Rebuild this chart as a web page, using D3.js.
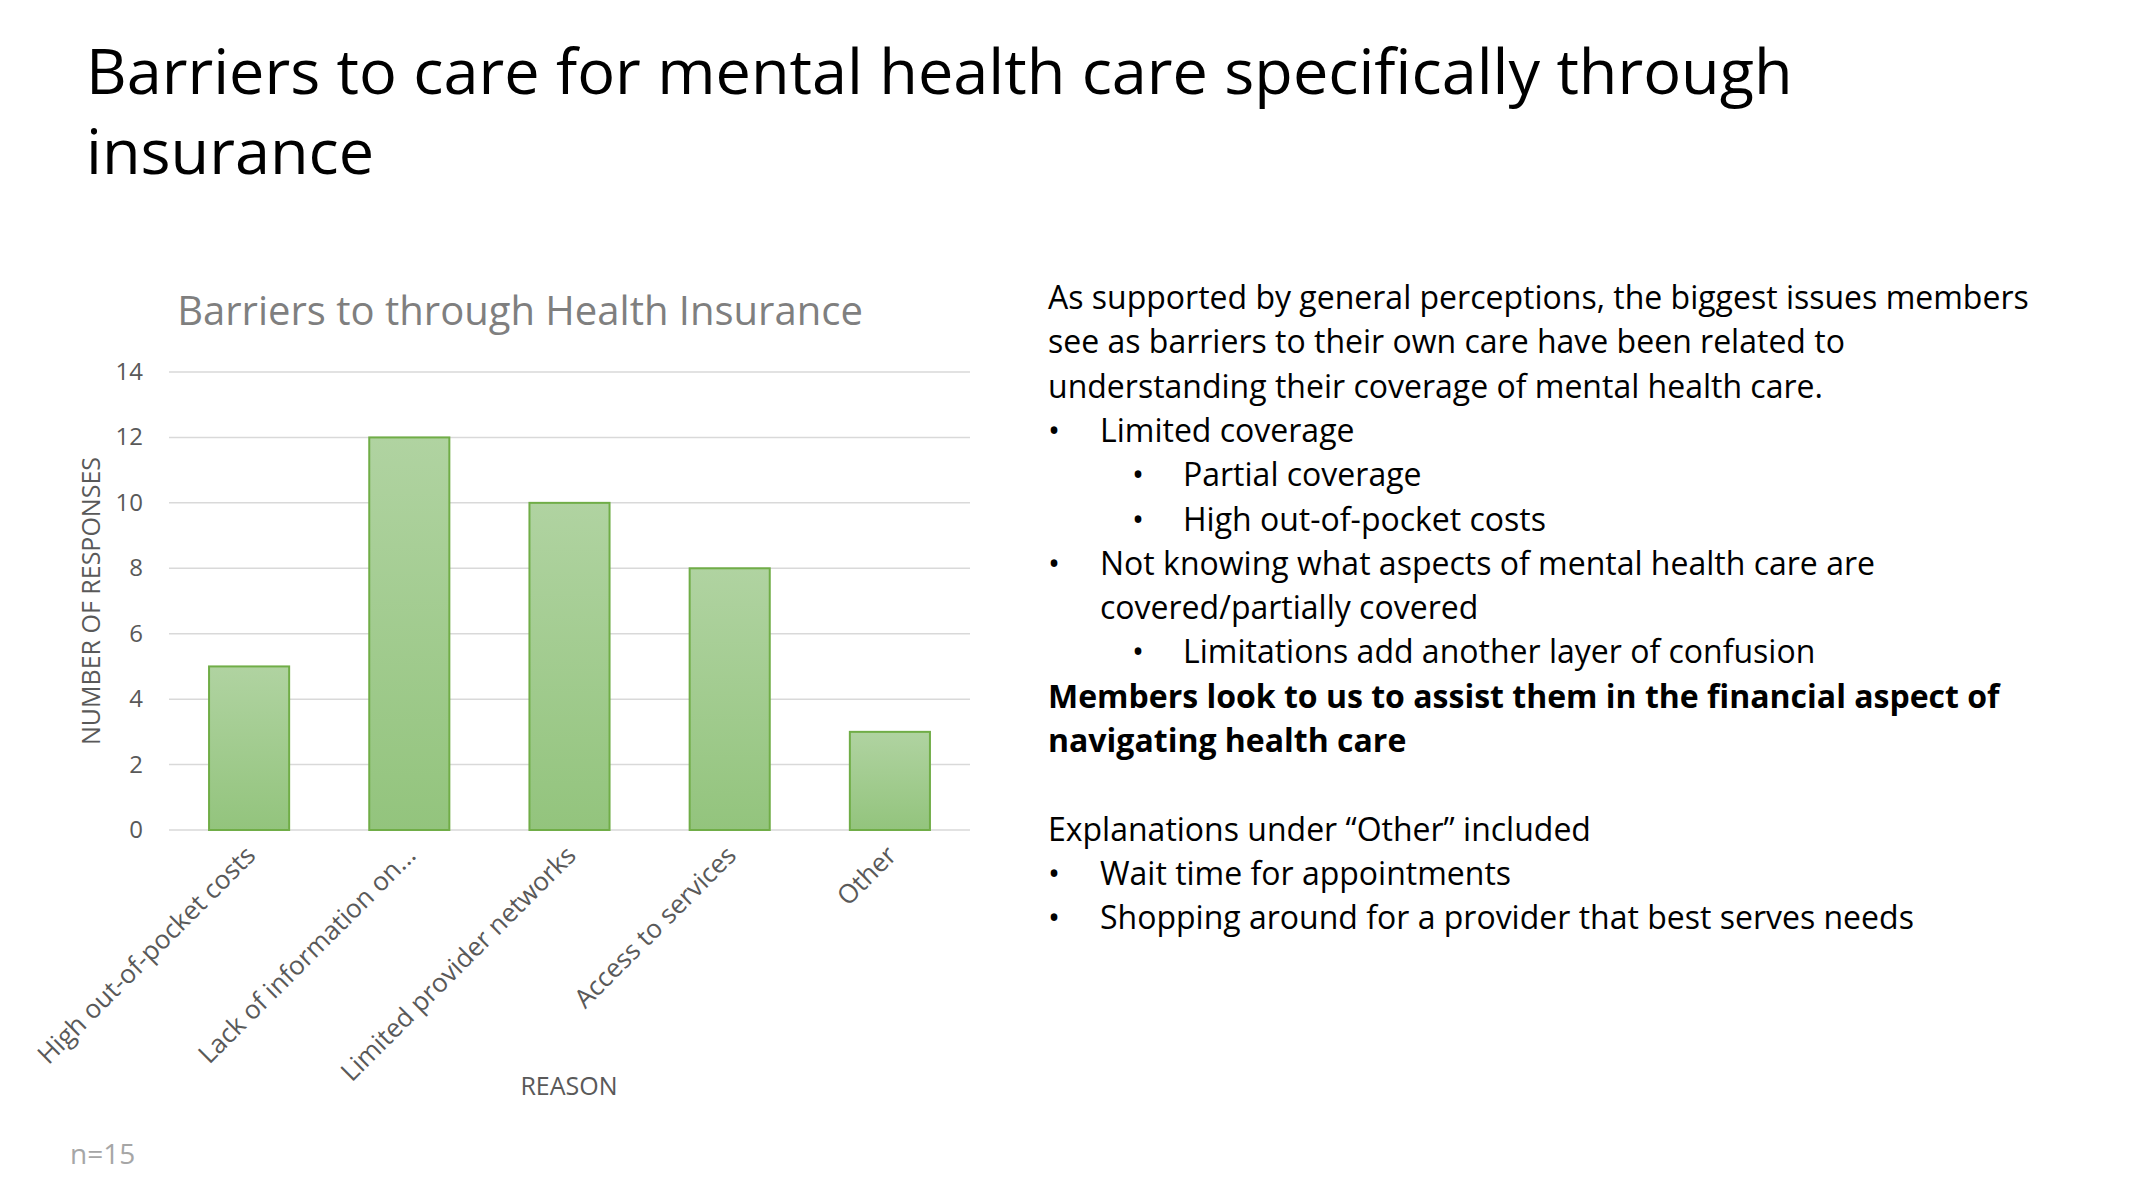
<!DOCTYPE html>
<html><head><meta charset="utf-8">
<script src="https://cdn.jsdelivr.net/npm/d3@7"></script>
<style>body{margin:0;background:#fff;} text{font-family:"Open Sans",sans-serif;}</style>
</head><body>
<script>
var categories = ["High out-of-pocket costs", "Lack of information on...", "Limited provider networks", "Access to services", "Other"];
var responses = [5, 12, 10, 8, 3];
var yTicks = [0, 2, 4, 6, 8, 10, 12, 14];
var notes = [
  {t: "As supported by general perceptions, the biggest issues members", lvl: 0},
  {t: "see as barriers to their own care have been related to", lvl: 0},
  {t: "understanding their coverage of mental health care.", lvl: 0},
  {t: "Limited coverage", lvl: 1},
  {t: "Partial coverage", lvl: 2},
  {t: "High out-of-pocket costs", lvl: 2},
  {t: "Not knowing what aspects of mental health care are", lvl: 1},
  {t: "covered/partially covered", lvl: 1, cont: true},
  {t: "Limitations add another layer of confusion", lvl: 2},
  {t: "Members look to us to assist them in the financial aspect of", lvl: 0, bold: true},
  {t: "navigating health care", lvl: 0, bold: true},
  {t: "", lvl: 0},
  {t: "Explanations under \u201cOther\u201d included", lvl: 0},
  {t: "Wait time for appointments", lvl: 1},
  {t: "Shopping around for a provider that best serves needs", lvl: 1}
];

var svg = d3.select("body").append("svg").attr("width", 2140).attr("height", 1188);

svg.append("text").attr("x", 86).attr("y", 94).attr("font-size", 63).attr("fill", "#000")
  .text("Barriers to care for mental health care specifically through");
svg.append("text").attr("x", 86).attr("y", 174).attr("font-size", 63).attr("fill", "#000")
  .text("insurance");

var defs = svg.append("defs");
var grad = defs.append("linearGradient").attr("id", "g").attr("x1", 0).attr("y1", 0).attr("x2", 0).attr("y2", 1);
grad.append("stop").attr("offset", "0%").attr("stop-color", "#b0d3a1");
grad.append("stop").attr("offset", "100%").attr("stop-color", "#93c47d");

var x = d3.scaleBand().domain(categories).range([169, 970]).paddingInner(0.5).paddingOuter(0.25);
var y = d3.scaleLinear().domain([0, 14]).range([830, 372]);

svg.append("text").attr("x", 520).attr("y", 325).attr("text-anchor", "middle")
  .attr("font-size", 40).attr("fill", "#7f7f7f").text("Barriers to through Health Insurance");

svg.selectAll(".grid").data(yTicks).enter().append("line")
  .attr("x1", 169).attr("x2", 970).attr("y1", d => y(d)).attr("y2", d => y(d))
  .attr("stroke", "#d9d9d9").attr("stroke-width", 1.5);

svg.selectAll(".yt").data(yTicks).enter().append("text")
  .attr("x", 143).attr("y", d => y(d) + 8).attr("text-anchor", "end")
  .attr("font-size", 24).attr("fill", "#595959").text(d => d);

svg.selectAll(".bar").data(responses).enter().append("rect")
  .attr("x", (d, i) => x(categories[i])).attr("width", x.bandwidth())
  .attr("y", d => y(d)).attr("height", d => y(0) - y(d))
  .attr("fill", "url(#g)").attr("stroke", "#70ad47").attr("stroke-width", 2);

svg.selectAll(".xl").data(categories).enter().append("text")
  .attr("transform", d => "translate(" + (x(d) + x.bandwidth() / 2 + 8) + ",857) rotate(-45)")
  .attr("text-anchor", "end").attr("font-size", 26).attr("fill", "#595959").text(d => d);

svg.append("text").attr("transform", "translate(100,601) rotate(-90)").attr("text-anchor", "middle")
  .attr("font-size", 25).attr("fill", "#595959").text("NUMBER OF RESPONSES");
svg.append("text").attr("x", 569).attr("y", 1095).attr("text-anchor", "middle")
  .attr("font-size", 25).attr("fill", "#595959").text("REASON");

svg.append("text").attr("x", 70).attr("y", 1164).attr("font-size", 28).attr("fill", "#a6a6a6").text("n=15");

var lineY = d3.scaleLinear().domain([0, 1]).range([309, 353.3]);
var nt = svg.selectAll(".note").data(notes).enter().append("g")
  .attr("transform", (d, i) => "translate(0," + lineY(i) + ")");
nt.filter(d => d.lvl > 0 && !d.cont && d.t).append("text")
  .attr("x", d => d.lvl === 1 ? 1048 : 1132).attr("font-size", 32).text("\u2022");
nt.append("text")
  .attr("x", d => d.lvl === 0 ? 1048 : d.lvl === 1 ? 1100 : 1183)
  .attr("font-size", 32).attr("font-weight", d => d.bold ? "bold" : "normal")
  .attr("fill", "#000").text(d => d.t);
</script>
</body></html>
